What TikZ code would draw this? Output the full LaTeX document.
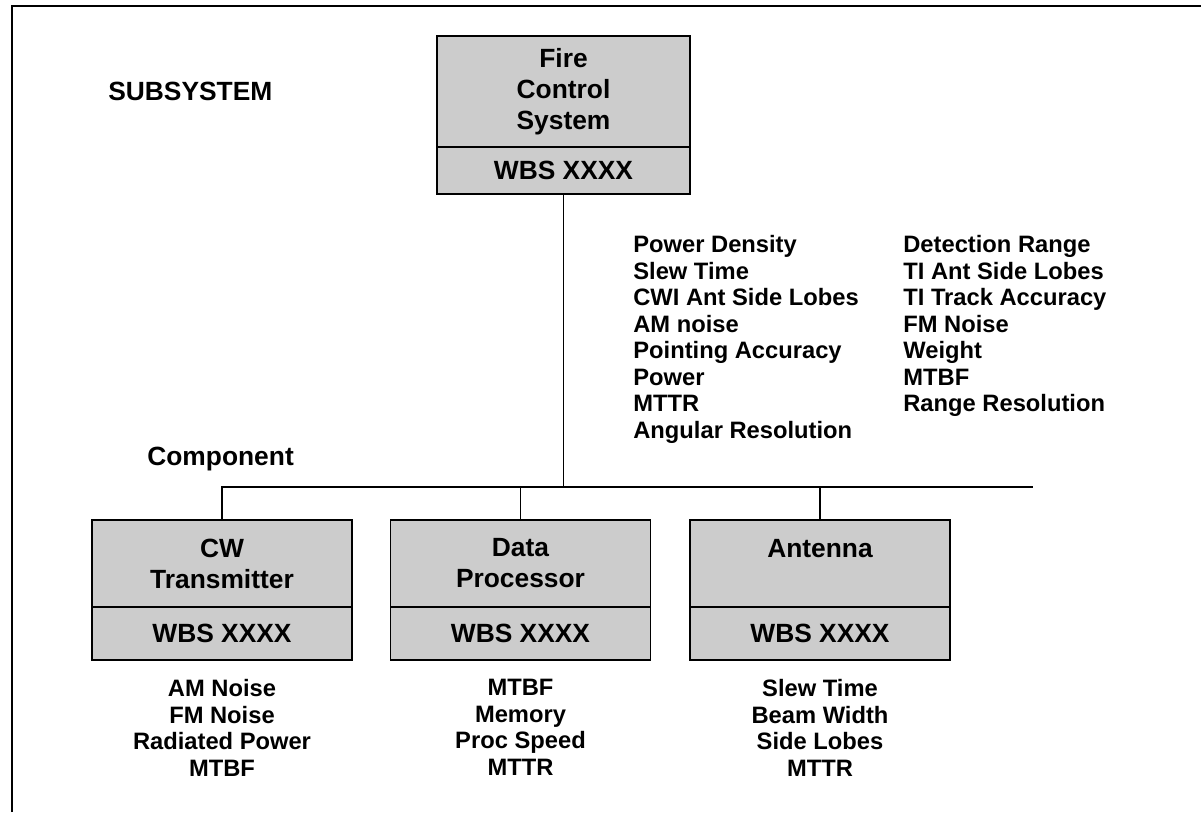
\documentclass[tikz,border=0pt]{standalone}
\usepackage{fontspec}
\setmainfont{Liberation Sans}
\usepackage{tikz}
\usetikzlibrary{positioning}
\definecolor{boxgray}{RGB}{204,204,204}

\begin{document}
\begin{tikzpicture}[
    font=\fontsize{15}{17.6}\selectfont\bfseries,
    cell/.style={rectangle, draw=black, line width=1.1pt, fill=boxgray, outer sep=0pt, inner sep=2pt, align=center},
    topname/.style={cell, minimum width=5.06cm, minimum height=2.22cm},
    topwbs/.style={cell, minimum width=5.06cm, minimum height=0.94cm},
    compname/.style={cell, minimum width=5.2cm, minimum height=1.74cm},
    compwbs/.style={cell, minimum width=5.2cm, minimum height=1.06cm},
    heading/.style={inner sep=0pt, anchor=north west},
    attrs/.style={inner sep=0pt, font=\fontsize{13.5}{15.1}\selectfont\bfseries},
    conn/.style={line width=1pt},
    frame/.style={line width=1.6pt}
]
\useasboundingbox (0,0) rectangle (24.02,-16.24);

\draw[frame] (0.24,-16.24) -- (0.24,-0.12) -- (24.02,-0.12);

\node[heading] (subsys) at (2.16,-1.64) {SUBSYSTEM};
\node[heading] (complevel) at (2.94,-8.94) {Component};

\node[topname] (fcs) at (11.27,-1.83) {Fire\\Control\\System};
\node[topwbs, below=0pt of fcs] (fcswbs) {WBS XXXX};

\node[compname] (cwt) at (4.44,-11.27) {CW\\Transmitter};
\node[compwbs, below=0pt of cwt] (cwtwbs) {WBS XXXX};
\node[compname] (dproc) at (10.41,-11.27) {Data\\Processor};
\node[compwbs, below=0pt of dproc] (dprocwbs) {WBS XXXX};
\node[compname] (ant) at (16.40,-11.27) {Antenna\\\mbox{}};
\node[compwbs, below=0pt of ant] (antwbs) {WBS XXXX};

\node[attrs, anchor=north west, align=left] (fcsreqa) at (12.66,-4.70) {Power Density\\Slew Time\\CWI Ant Side Lobes\\AM noise\\Pointing Accuracy\\Power\\MTTR\\Angular Resolution};
\node[attrs, anchor=north west, align=left] (fcsreqb) at (18.06,-4.70) {Detection Range\\TI Ant Side Lobes\\TI Track Accuracy\\FM Noise\\Weight\\MTBF\\Range Resolution};

\node[attrs, align=center, below=0.38cm of cwtwbs] (cwtreq) {AM Noise\\FM Noise\\Radiated Power\\MTBF};
\node[attrs, align=center, below=0.38cm of dprocwbs] (dprocreq) {MTBF\\Memory\\Proc Speed\\MTTR};
\node[attrs, align=center, below=0.38cm of antwbs] (antreq) {Slew Time\\Beam Width\\Side Lobes\\MTTR};

\coordinate (busend) at (20.66,-9.74);
\draw[conn] (fcswbs.south) -- (fcswbs.south |- busend);
\draw[conn] (cwt.north) -- (cwt.north |- busend) -- (busend);
\draw[conn] (dproc.north) -- (dproc.north |- busend);
\draw[conn] (ant.north) -- (ant.north |- busend);

\end{tikzpicture}
\end{document}
